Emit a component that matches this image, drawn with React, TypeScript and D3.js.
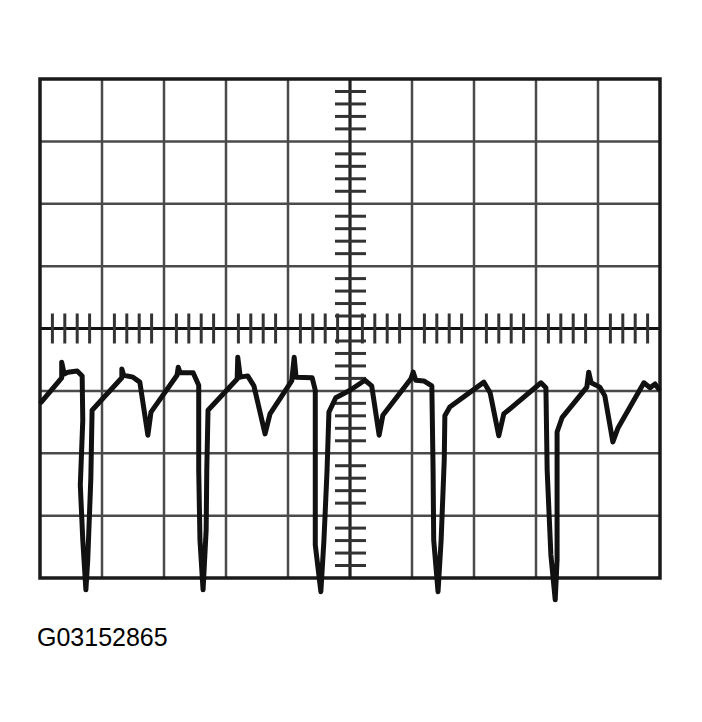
import React, { useEffect, useRef } from 'react'
import * as d3 from 'd3'

// scope screen: 10 horizontal x 8 vertical divisions, 5 subdivisions each
const hDivisions = d3.range(0, 11)
const vDivisions = d3.range(-4, 5)
const subdivisions = 5

// trace, time in divisions, voltage in divisions
const traceTime = [
    0.02, 0.35, 0.35, 0.39, 0.45, 0.60, 0.68, 0.69, 0.65, 0.69, 0.74, 0.77, 0.82, 0.84,
    1.32, 1.32, 1.35, 1.50, 1.61, 1.74, 1.79, 2.21, 2.23, 2.26, 2.47, 2.56, 2.56, 2.58,
    2.63, 2.68, 2.69, 2.71, 3.18, 3.19, 3.23, 3.35, 3.45, 3.63, 3.71, 4.06, 4.10, 4.13,
    4.39, 4.44, 4.44, 4.53, 4.58, 4.63, 4.66, 4.77, 5.00, 5.24, 5.35, 5.47, 5.53, 5.98,
    6.02, 6.06, 6.19, 6.32, 6.34, 6.35, 6.42, 6.47, 6.52, 6.53, 6.61, 7.16, 7.26, 7.40,
    7.48, 8.08, 8.16, 8.18, 8.24, 8.31, 8.34, 8.34, 8.42, 8.82, 8.85, 8.89, 9.03, 9.11,
    9.24, 9.32, 9.74, 9.84, 9.92, 9.98,
]
const traceVolts = [
    -1.18, -0.79, -0.54, -0.73, -0.70, -0.68, -0.76, -1.47, -2.51, -3.39, -4.19, -3.71, -2.40, -1.31,
    -0.79, -0.65, -0.75, -0.78, -0.86, -1.71, -1.34, -0.75, -0.62, -0.71, -0.71, -0.91, -2.27, -3.39,
    -4.19, -3.23, -2.27, -1.31, -0.81, -0.46, -0.78, -0.76, -0.92, -1.69, -1.37, -0.84, -0.46, -0.78,
    -0.79, -0.99, -3.47, -4.22, -3.39, -2.27, -1.34, -1.11, -0.99, -0.83, -0.92, -1.71, -1.39, -0.81,
    -0.70, -0.83, -0.84, -0.92, -2.27, -3.39, -4.22, -3.39, -2.11, -1.40, -1.26, -0.86, -1.03, -1.72,
    -1.37, -0.87, -0.95, -2.27, -3.63, -4.35, -3.71, -1.66, -1.43, -0.94, -0.70, -0.87, -0.94, -1.08,
    -1.82, -1.60, -0.87, -0.95, -0.89, -0.97,
]

const figureLabel = "G03152865"

export default function App({ width = 702, height = 722 }) {
    const svgRef = useRef<SVGSVGElement>(null)

    useEffect(() => {
        if (!svgRef.current) return

        const svg = d3.select(svgRef.current)
        svg.selectAll("*").remove()

        const screen = { left: 40, right: 660, top: 79, bottom: 578 }

        const x = d3.scaleLinear().domain([0, 10]).range([screen.left, screen.right])
        const y = d3.scaleLinear().domain([-4, 4]).range([screen.bottom, screen.top])

        svg.append("rect").attr("width", width).attr("height", height).attr("fill", "#fff")

        const grid = svg.append("g")

        // Graticule
        grid.selectAll("line.v")
            .data(hDivisions.slice(1, -1))
            .enter().append("line")
            .attr("x1", d => x(d)).attr("x2", d => x(d))
            .attr("y1", y(4)).attr("y2", y(-4))
            .attr("stroke", "#4a4a4a")
            .attr("stroke-width", 2.5)

        grid.selectAll("line.h")
            .data(vDivisions.slice(1, -1))
            .enter().append("line")
            .attr("x1", x(0)).attr("x2", x(10))
            .attr("y1", d => y(d)).attr("y2", d => y(d))
            .attr("stroke", "#4a4a4a")
            .attr("stroke-width", 2.5)

        // Center axes
        grid.append("line")
            .attr("x1", x(5)).attr("x2", x(5)).attr("y1", y(4)).attr("y2", y(-4))
            .attr("stroke", "#222").attr("stroke-width", 3)
        grid.append("line")
            .attr("x1", x(0)).attr("x2", x(10)).attr("y1", y(0)).attr("y2", y(0))
            .attr("stroke", "#111").attr("stroke-width", 3)

        // Subdivision ticks on the center axes
        const xMinor = d3.range(0, 10 * subdivisions).filter(i => i % subdivisions !== 0).map(i => i / subdivisions)
        const yMinor = d3.range(-4 * subdivisions, 4 * subdivisions).filter(i => i % subdivisions !== 0).map(i => i / subdivisions)

        grid.selectAll("line.xt")
            .data(xMinor)
            .enter().append("line")
            .attr("x1", d => x(d)).attr("x2", d => x(d))
            .attr("y1", y(0) - 15).attr("y2", y(0) + 15)
            .attr("stroke", "#333")
            .attr("stroke-width", 3)

        grid.selectAll("line.yt")
            .data(yMinor)
            .enter().append("line")
            .attr("x1", x(5) - 15).attr("x2", x(5) + 16)
            .attr("y1", d => y(d)).attr("y2", d => y(d))
            .attr("stroke", "#333")
            .attr("stroke-width", 3)

        // Border
        grid.append("rect")
            .attr("x", x(0)).attr("y", y(4))
            .attr("width", x(10) - x(0)).attr("height", y(-4) - y(4))
            .attr("fill", "none")
            .attr("stroke", "#1a1a1a")
            .attr("stroke-width", 3.5)

        // Trace
        const points = traceTime.map((t, i) => [t, traceVolts[i]] as [number, number])
        const line = d3.line<[number, number]>()
            .x(d => x(d[0]))
            .y(d => y(d[1]))

        svg.append("path")
            .datum(points)
            .attr("d", line)
            .attr("fill", "none")
            .attr("stroke", "#111")
            .attr("stroke-width", 5)
            .attr("stroke-linejoin", "round")
            .attr("stroke-linecap", "round")

        svg.append("text")
            .attr("x", 37)
            .attr("y", 646)
            .attr("font-family", "'Liberation Sans', Arial, sans-serif")
            .attr("font-size", 25)
            .attr("fill", "#000")
            .text(figureLabel)
    }, [width, height])

    return (
        <svg ref={svgRef} width={width} height={height} viewBox={`0 0 ${width} ${height}`}
            style={{ position: 'absolute', left: 0, top: 0 }} />
    )
}
